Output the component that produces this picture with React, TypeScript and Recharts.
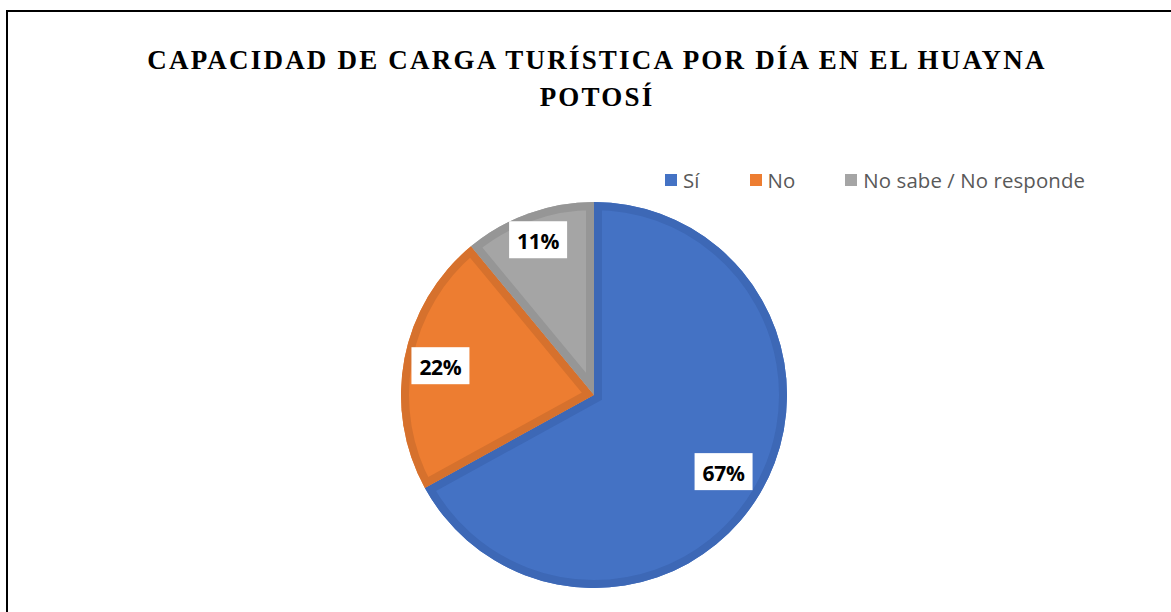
import { PieChart, Pie, Cell, Legend, Sector } from 'recharts';

const categories = ['Sí', 'No', 'No sabe / No responde'];
const values = [67, 22, 11];
const fills = ['#4472C4', '#ED7D31', '#A5A5A5'];
const bands = ['#3D68B6', '#D6712D', '#969696'];
const titleLines = ['CAPACIDAD DE CARGA TURÍSTICA POR DÍA EN EL HUAYNA', 'POTOSÍ'];

const data = categories.map((name, i) => ({ name, value: values[i] }));

// label distance from centre, as a share of the radius (Excel best fit)
const labelDist = [0.78, 0.81, 0.855];
const legendGap = [50, 50, 0];

const RAD = Math.PI / 180;

// draws the darker inner band of each slice, then the white label box
const renderLabel = (props: any) => {
  const { cx, cy, midAngle, innerRadius, outerRadius, startAngle, endAngle, index, percent } = props;
  const clipId = `slice-clip-${index}`;
  const r = outerRadius * labelDist[index];
  const x = cx + r * Math.cos(-midAngle * RAD);
  const y = cy + r * Math.sin(-midAngle * RAD);
  return (
    <g>
      <defs>
        <clipPath id={clipId}>
          <Sector cx={cx} cy={cy} innerRadius={innerRadius} outerRadius={outerRadius} startAngle={startAngle} endAngle={endAngle} />
        </clipPath>
      </defs>
      <Sector
        cx={cx}
        cy={cy}
        innerRadius={innerRadius}
        outerRadius={outerRadius}
        startAngle={startAngle}
        endAngle={endAngle}
        fill="none"
        stroke={bands[index]}
        strokeWidth={16}
        clipPath={`url(#${clipId})`}
      />
      <rect x={x - 29} y={y - 18.5} width={58} height={37} fill="#ffffff" />
      <text
        x={x}
        y={y + 1}
        textAnchor="middle"
        dominantBaseline="central"
        fill="#000000"
        fontFamily="'Open Sans', sans-serif"
        fontWeight="bold"
        fontSize={21}
        letterSpacing={-0.3}
      >
        {`${Math.round(percent * 100)}%`}
      </text>
    </g>
  );
};

const renderLegend = () => (
  <div style={{ display: 'flex', alignItems: 'center', fontFamily: "'Open Sans', sans-serif", fontSize: 20.4, color: '#595959' }}>
    {categories.map((name, i) => (
      <div key={name} style={{ display: 'flex', alignItems: 'center', marginRight: legendGap[i] }}>
        <span style={{ display: 'inline-block', width: 12, height: 12, background: fills[i], marginRight: 6 }} />
        <span style={{ letterSpacing: 0.1 }}>{name}</span>
      </div>
    ))}
  </div>
);

export default function App() {
  return (
    <div style={{ position: 'absolute', left: 0, top: 0, width: 1171, height: 612, overflow: 'hidden', background: '#ffffff' }}>
      <div style={{ position: 'absolute', left: 6, top: 10, width: 1300, height: 800, border: '2px solid #000000' }} />
      <div
        style={{
          position: 'absolute',
          left: 0,
          top: 42,
          width: 1194,
          textAlign: 'center',
          fontFamily: "'Liberation Serif', 'Times New Roman', serif",
          fontWeight: 'bold',
          fontSize: 27,
          letterSpacing: 2.2,
          lineHeight: '37px',
          color: '#000000',
        }}
      >
        {titleLines.map((line) => (
          <div key={line}>{line}</div>
        ))}
      </div>
      <div style={{ position: 'absolute', left: 0, top: 0 }}>
        <PieChart width={1171} height={612} margin={{ top: 0, right: 0, bottom: 0, left: 0 }}>
          <Legend
            content={renderLegend}
            wrapperStyle={{ position: 'absolute', left: 665, top: 166, width: 480 }}
          />
          <Pie
            data={data}
            dataKey="value"
            nameKey="name"
            cx={594}
            cy={395}
            outerRadius={193}
            startAngle={90}
            endAngle={-270}
            stroke="none"
            label={renderLabel}
            labelLine={false}
            isAnimationActive={false}
          >
            {data.map((d, i) => (
              <Cell key={d.name} fill={fills[i]} />
            ))}
          </Pie>
        </PieChart>
      </div>
    </div>
  );
}
